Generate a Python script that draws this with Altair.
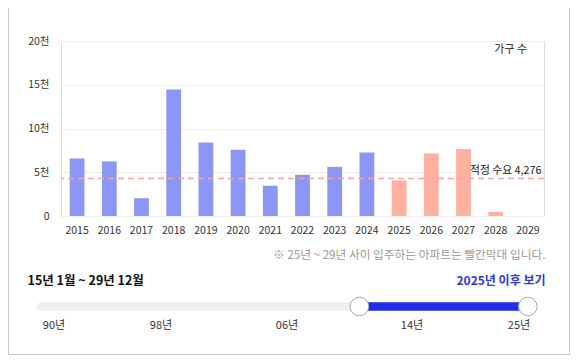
import altair as alt
import pandas as pd

# ---- data ----
years = [str(y) for y in range(2015, 2030)]
households = [6580, 6240, 2020, 14450, 8400, 7560, 3460, 4710, 5620, 7260,
              4070, 7150, 7670, 460, 0]
periods = ["입주 완료"] * 10 + ["입주 예정"] * 5
demand = 4276
y_ticks = [0, 5000, 10000, 15000, 20000]
slider_labels = ["90년", "98년", "06년", "14년", "25년"]

FONT = "Noto Sans CJK KR"
W, H = 483, 175

df = pd.DataFrame({"year": years, "value": households, "period": periods})

bars = alt.Chart(df).mark_bar().encode(
    x=alt.X("year:N", sort=years,
            scale=alt.Scale(paddingInner=0.54, paddingOuter=0.27),
            axis=alt.Axis(title=None, labelAngle=0, ticks=False, domain=False,
                          labelPadding=9, labelFontSize=10.5, labelColor="#333333",
                          labelFont=FONT, grid=False, labelOverlap=False)),
    y=alt.Y("value:Q", scale=alt.Scale(domain=[0, 20000], nice=False),
            axis=alt.Axis(title=None, values=y_ticks, ticks=False, domain=False,
                          labelPadding=12, labelFontSize=10.5, labelColor="#333333",
                          labelFont=FONT, gridColor="#eeeeee",
                          labelExpr="datum.value == 0 ? '0' : (datum.value / 1000) + '천'")),
    color=alt.Color("period:N", legend=None,
                    scale=alt.Scale(domain=["입주 완료", "입주 예정"],
                                    range=["#8c97f5", "#ffb1a1"])),
)

ddf = pd.DataFrame({"d": [demand], "label": [f"적정 수요 {demand:,}"]})
demand_line = alt.Chart(ddf).mark_rule(color="#f5a3a3", strokeDash=[6, 4],
                                       strokeWidth=1.5).encode(y="d:Q")
demand_text = alt.Chart(ddf).mark_text(align="right", baseline="bottom", dy=-3,
                                       font=FONT, fontSize=10.8, color="#222222").encode(
    y="d:Q", x=alt.value(480.5), text="label:N")


def txt(s, x, y, align="left", size=11, color="#222222", weight="normal"):
    return alt.Chart(pd.DataFrame({"t": [s]})).mark_text(
        align=align, baseline="middle", font=FONT, fontSize=size,
        color=color, fontWeight=weight).encode(
        x=alt.value(x), y=alt.value(y), text="t:N")


unit = txt("가구 수", 466, 9, align="right", size=11)
note = txt("※ 25년 ~ 29년 사이 입주하는 아파트는 빨간막대 입니다.", 484.5, 214,
           align="right", size=11.7, color="#999999")
period_title = txt("15년 1월 ~ 29년 12월", -33.5, 240, size=12.5,
                   color="#111111", weight="bold")
after_link = txt("2025년 이후 보기", 484.5, 240, align="right", size=12,
                 color="#2b3bd8", weight="bold")

one = pd.DataFrame({"k": [0]})
track = alt.Chart(one).mark_rule(color="#eeeff1", strokeWidth=8.5,
                                 strokeCap="round").encode(
    x=alt.value(-20), x2=alt.value(470), y=alt.value(265.5))
active = alt.Chart(one).mark_rule(color="#1f2ee8", strokeWidth=8.5).encode(
    x=alt.value(298.4), x2=alt.value(466.8), y=alt.value(265.5))
handle1 = alt.Chart(one).mark_point(filled=True, fill="white", stroke="#a8a8a8",
                                    strokeWidth=1, size=346, opacity=1,
                                    shape="circle").encode(
    x=alt.value(298.4), y=alt.value(265.5))
handle2 = alt.Chart(one).mark_point(filled=True, fill="white", stroke="#a8a8a8",
                                    strokeWidth=1, size=346, opacity=1,
                                    shape="circle").encode(
    x=alt.value(466.8), y=alt.value(265.5))

slider_x = [-7, 100, 226, 351, 458]
slider_texts = [txt(s, x, 285, align="center", size=11, color="#333333")
                for s, x in zip(slider_labels, slider_x)]

border_l = alt.Chart(one).mark_rule(color="#c8c8c8", strokeWidth=1).encode(
    x=alt.value(-52.5), y=alt.value(-33), y2=alt.value(313.5))
border_r = alt.Chart(one).mark_rule(color="#c8c8c8", strokeWidth=1).encode(
    x=alt.value(508.5), y=alt.value(-33), y2=alt.value(313.5))
border_b = alt.Chart(one).mark_rule(color="#c8c8c8", strokeWidth=1).encode(
    x=alt.value(-52.5), x2=alt.value(508.5), y=alt.value(313.5))

chart = alt.layer(
    bars, demand_line, demand_text, unit, note, period_title, after_link,
    track, active, handle1, handle2, *slider_texts, border_l, border_r, border_b
).properties(
    width=W, height=H,
    autosize=alt.AutoSizeParams(type="none"),
    padding={"left": 53, "top": 33, "right": 26, "bottom": 139},
).configure_view(stroke="#eeeeee").configure(background="white")

chart.save("out.html", embed_options={"renderer": "svg", "actions": False})
